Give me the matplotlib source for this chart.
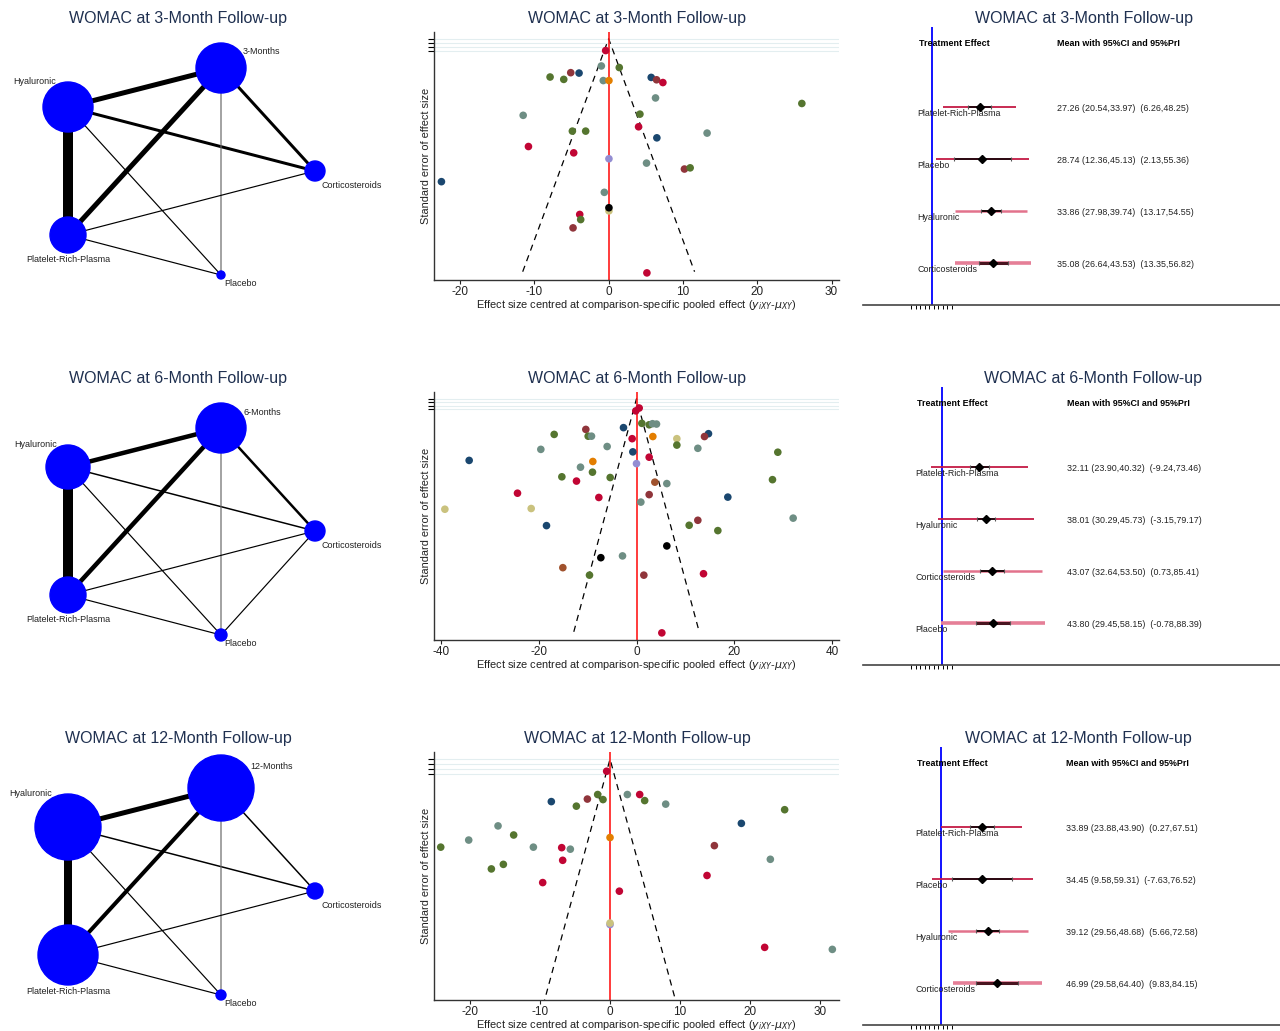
#!/usr/bin/env python3
"""
WOMAC network meta-analysis panels at 3, 6 and 12 months:
network geometry, comparison-adjusted funnel plot and forest of
mean effects with 95% CI and 95% prediction interval.
"""

import matplotlib.pyplot as plt
import numpy as np

plt.rcParams['font.family'] = ['Liberation Sans', 'DejaVu Sans']
plt.rcParams['axes.unicode_minus'] = False

W, H = 1280, 1031
TITLE_COLOR = '#1f3050'

TIMEPOINTS = ['3-Month', '6-Month', '12-Month']
TIME_NODES = ['3-Months', '6-Months', '12-Months']

# ---- network geometry -------------------------------------------------
NODE_NAMES = ['Time', 'Hyaluronic', 'Corticosteroids',
              'Platelet-Rich-Plasma', 'Placebo']
NODE_X = [221, 68, 315, 68, 221]
NODE_Y = [68, 107, 171, 235, 275]
NODE_SIZE = [
    [25, 25, 10, 18, 4],
    [25, 22, 10, 18, 6],
    [33, 33, 8, 30, 5],
]
EDGES = [(1, 0), (1, 3), (3, 0), (0, 2), (1, 2),
         (1, 4), (0, 4), (3, 2), (3, 4), (2, 4)]
EDGE_WIDTH = [
    [5, 10, 5, 3, 3, 1, 1, 1, 1, 0],
    [4.5, 10, 4.5, 2.5, 1.5, 1, 1, 1, 1, 1],
    [5, 8, 4, 1.5, 1.5, 1, 1, 1, 1, 0],
]

# ---- funnel plots -------------------------------------------------------
COL = {
    'navy': '#1a476f', 'maroon': '#90353b', 'green': '#55752f',
    'orange': '#e37e00', 'teal': '#6e8e84', 'cran': '#c10534',
    'lav': '#938dd2', 'khaki': '#cac27e', 'sienna': '#a0522d',
    'black': '#000000',
}

F1_EFFECT = [-0.40, -0.98, 1.43, -7.88, -6.04, -5.10, -3.98, -0.72, 0.04,
             5.73, 6.45, 7.30, 6.31, 26.0, -11.5, 4.21, 4.03, -4.88, -3.09,
             13.25, 6.49, -10.79, -4.70, 0.04, 5.10, 10.2, 10.97, -22.5,
             -0.58, 0.04, 0.04, -3.89, -3.76, -4.79, 5.15]
F1_SE = [0.30, 0.69, 0.73, 0.97, 1.03, 0.86, 0.87, 1.06, 1.06, 0.98, 1.04,
         1.11, 1.50, 1.64, 1.94, 1.91, 2.23, 2.34, 2.34, 2.39, 2.51, 2.73,
         2.89, 3.04, 3.15, 3.30, 3.27, 3.62, 3.89, 4.36, 4.28, 4.45, 4.58,
         4.79, 5.93]
F1_COLOR = ['cran', 'teal', 'green', 'green', 'green', 'maroon', 'navy',
            'teal', 'orange', 'navy', 'maroon', 'cran', 'teal', 'green',
            'teal', 'green', 'cran', 'green', 'green', 'teal', 'navy',
            'cran', 'cran', 'lav', 'teal', 'maroon', 'green', 'navy',
            'teal', 'khaki', 'black', 'cran', 'green', 'maroon', 'cran']

F2_EFFECT = [0.55, -0.14, 1.09, 2.59, 3.27, 4.09, -2.66, -10.36, -16.83,
             -9.88, -9.20, -0.89, 3.34, 8.25, 14.72, 13.90, 8.25, 12.54,
             -6.00, -0.75, -19.56, 28.89, -34.21, 2.59, -8.93, 0.0, -11.45,
             -9.0, -15.26, -5.38, -12.27, 3.75, 6.20, 27.80, -24.33, -7.70,
             2.59, 18.67, 0.89, -39.18, -21.53, -18.40, 10.77, 12.54, 16.63,
             32.03, 6.20, -7.29, -2.86, -15.06, -9.61, 1.50, 13.70, 5.18]
F2_SE = [0.26, 0.34, 0.69, 0.73, 0.70, 0.71, 0.81, 0.86, 1.00, 1.05, 1.05,
         1.12, 1.06, 1.12, 0.98, 1.06, 1.30, 1.39, 1.34, 1.49, 1.42, 1.50,
         1.73, 1.64, 1.76, 1.82, 1.92, 2.06, 2.19, 2.21, 2.31, 2.34, 2.38,
         2.27, 2.65, 2.77, 2.69, 2.76, 2.90, 3.10, 3.08, 3.56, 3.55, 3.41,
         3.70, 3.35, 4.13, 4.46, 4.41, 4.74, 4.95, 4.95, 4.91, 6.57]
F2_COLOR = ['cran', 'cran', 'green', 'green', 'teal', 'teal', 'navy',
            'maroon', 'green', 'green', 'teal', 'cran', 'orange', 'khaki',
            'navy', 'maroon', 'green', 'teal', 'teal', 'navy', 'teal',
            'green', 'navy', 'cran', 'orange', 'lav', 'teal', 'green',
            'green', 'green', 'cran', 'sienna', 'teal', 'green', 'cran',
            'cran', 'maroon', 'navy', 'teal', 'khaki', 'khaki', 'navy',
            'green', 'maroon', 'green', 'teal', 'black', 'black', 'teal',
            'sienna', 'green', 'maroon', 'cran', 'cran']

F3_EFFECT = [-0.48, -1.76, -1.0, -3.23, -8.37, -4.80, 2.47, 4.23, 4.94,
             7.94, 24.9, 18.73, -15.97, -20.15, -13.74, -24.14, -10.93,
             -6.89, -5.66, 0.0, 14.88, -16.92, -15.21, -6.75, 22.86, -9.60,
             1.33, 13.83, 0.0, 0.0, 22.05, 31.70, 0.0]
F3_SE = [0.24, 0.70, 0.80, 0.79, 0.84, 0.93, 0.70, 0.70, 0.82, 0.89, 1.00,
         1.27, 1.32, 1.60, 1.50, 1.74, 1.74, 1.75, 1.78, 1.55, 1.71, 2.17,
         2.08, 2.00, 1.98, 2.44, 2.61, 2.30, 3.27, 3.24, 3.72, 3.76, 4.89]
F3_COLOR = ['cran', 'green', 'green', 'maroon', 'navy', 'green', 'teal',
            'cran', 'green', 'teal', 'green', 'navy', 'teal', 'teal',
            'green', 'green', 'teal', 'cran', 'teal', 'orange', 'maroon',
            'green', 'green', 'cran', 'teal', 'cran', 'cran', 'cran', 'lav',
            'khaki', 'cran', 'teal', 'black']

FUNNEL_EFFECT = [F1_EFFECT, F2_EFFECT, F3_EFFECT]
FUNNEL_SE = [F1_SE, F2_SE, F3_SE]
FUNNEL_COLOR = [F1_COLOR, F2_COLOR, F3_COLOR]
FUNNEL_SEMAX = [5.9, 6.54, 4.87]
FUNNEL_XLIM = [(-23.5, 31.0), (-41.4, 41.4), (-25.1, 32.65)]
FUNNEL_YLIM = [(6.11, -0.17), (6.77, -0.19), (4.76, -0.14)]
FUNNEL_XTICKS = [[-20, -10, 0, 10, 20, 30], [-40, -20, 0, 20, 40],
                 [-20, -10, 0, 10, 20, 30]]

# ---- forest plots ---------------------------------------------------------
FOREST_TREAT = [
    ['Platelet-Rich-Plasma', 'Placebo', 'Hyaluronic', 'Corticosteroids'],
    ['Platelet-Rich-Plasma', 'Hyaluronic', 'Corticosteroids', 'Placebo'],
    ['Platelet-Rich-Plasma', 'Placebo', 'Hyaluronic', 'Corticosteroids'],
]
FOREST_MEAN = [[27.26, 28.74, 33.86, 35.08],
               [32.11, 38.01, 43.07, 43.80],
               [33.89, 34.45, 39.12, 46.99]]
FOREST_CI_LO = [[20.54, 12.36, 27.98, 26.64],
                [23.90, 30.29, 32.64, 29.45],
                [23.88, 9.58, 29.56, 29.58]]
FOREST_CI_HI = [[33.97, 45.13, 39.74, 43.53],
                [40.32, 45.73, 53.50, 58.15],
                [43.90, 59.31, 48.68, 64.40]]
FOREST_PI_LO = [[6.26, 2.13, 13.17, 13.35],
                [-9.24, -3.15, 0.73, -0.78],
                [0.27, -7.63, 5.66, 9.83]]
FOREST_PI_HI = [[48.25, 55.36, 54.55, 56.82],
                [73.46, 79.17, 85.41, 88.39],
                [67.51, 76.52, 72.58, 84.15]]

# pixel layout of each forest panel: zero line, px per unit, text columns
FOREST_ZERO_PX = [932, 942, 941]
FOREST_SCALE = [1.747, 1.167, 1.2]
FOREST_LABEL_PX = [917, 915, 915]
FOREST_NUM_PX = [1057, 1067, 1066]
FOREST_TITLE_PX = [1084, 1093, 1078]

PI_COLOR = ['#c41a44', '#c41a44', '#e2728c', '#e57f97']
PI_WIDTH = [1.3, 1.3, 1.8, 2.6]
CI_COLOR = ['black', 'black', '#1a0508', '#4a1520']
CI_WIDTH = [1.1, 1.1, 1.4, 2.2]


def px_axes(fig, left, top, right, bottom):
    return fig.add_axes([left / W, 1 - bottom / H,
                         (right - left) / W, (bottom - top) / H])


def fig_text(fig, x, y, s, **kw):
    fig.text(x / W, 1 - y / H, s, **kw)


def draw_network(fig, row, y0):
    ax = px_axes(fig, 0, y0, 400, y0 + 340)
    ax.set_xlim(0, 400)
    ax.set_ylim(340, 0)
    ax.axis('off')
    for (a, b), w in zip(EDGES, EDGE_WIDTH[row]):
        if w <= 0:
            continue
        color = '#666666' if {a, b} == {0, 4} else 'black'
        ax.plot([NODE_X[a], NODE_X[b]], [NODE_Y[a], NODE_Y[b]],
                color=color, lw=max(w * 0.72, 0.85), snap=False,
                solid_capstyle='butt', zorder=1)
    r = NODE_SIZE[row]
    for i in range(len(NODE_NAMES)):
        ax.add_patch(plt.Circle((NODE_X[i], NODE_Y[i]), r[i],
                                color='#0000ff', zorder=3))
    fs = 6.5
    x, y = NODE_X, NODE_Y
    ax.text(x[0] + 0.88 * r[0], y[0] - 0.64 * r[0], TIME_NODES[row],
            fontsize=fs, ha='left', va='center', color='#222222')
    ax.text(x[1] - 0.5 * r[1], y[1] - r[1] - 1, 'Hyaluronic',
            fontsize=fs, ha='right', va='center', color='#222222')
    ax.text(x[2] + 6, y[2] + 15, 'Corticosteroids',
            fontsize=fs, ha='left', va='center', color='#222222')
    ax.text(x[3], y[3] + r[3] + 7, 'Platelet-Rich-Plasma',
            fontsize=fs, ha='center', va='center', color='#222222')
    ax.text(x[4] + 3, y[4] + 9, 'Placebo',
            fontsize=fs, ha='left', va='center', color='#222222')
    fig_text(fig, 178, y0 + 18, f'WOMAC at {TIMEPOINTS[row]} Follow-up',
             fontsize=11.5, color=TITLE_COLOR, ha='center', va='center')


def draw_funnel(fig, row, y0):
    ax = px_axes(fig, 434, y0 + 32, 839, y0 + 280)
    eff = np.array(FUNNEL_EFFECT[row])
    se = np.array(FUNNEL_SE[row])
    cols = [COL[c] for c in FUNNEL_COLOR[row]]
    semax = FUNNEL_SEMAX[row]
    ax.set_xlim(*FUNNEL_XLIM[row])
    ax.set_ylim(*FUNNEL_YLIM[row])
    ax.set_yticks([0, 0.1, 0.2, 0.3])
    ax.set_yticklabels([])
    ax.grid(axis='y', color='#e3eef0', lw=0.8)
    ax.set_axisbelow(True)
    ax.plot([-1.96 * semax, 0, 1.96 * semax], [semax, 0, semax],
            color='black', ls=(0, (5, 4)), lw=0.9, zorder=2)
    ax.axvline(0, color='#ff1a1a', lw=1.2, zorder=2)
    ax.scatter(eff, se, s=30, c=cols, zorder=3, linewidths=0)
    ax.set_xticks(FUNNEL_XTICKS[row])
    ax.tick_params(axis='x', labelsize=8.5, length=3, pad=1,
                   colors='#222222')
    ax.tick_params(axis='y', length=4, width=0.8)
    for s in ('top', 'right'):
        ax.spines[s].set_visible(False)
    for s in ('left', 'bottom'):
        ax.spines[s].set_color('#333333')
        ax.spines[s].set_linewidth(1.0)
    ax.set_xlabel('Effect size centred at comparison-specific pooled '
                  r'effect ($y_{iXY}$-$\mu_{XY}$)', fontsize=7.9,
                  labelpad=0, color='#222222')
    ax.set_ylabel('Standard error of effect size', fontsize=7.9,
                  labelpad=-5, color='#222222')
    fig_text(fig, 637, y0 + 18, f'WOMAC at {TIMEPOINTS[row]} Follow-up',
             fontsize=11.5, color=TITLE_COLOR, ha='center', va='center')


def draw_forest(fig, row, y0):
    left, right = 863, 1280
    ax = px_axes(fig, left, y0 + 27, right, y0 + 305)
    zero, scale = FOREST_ZERO_PX[row], FOREST_SCALE[row]
    ax.set_xlim((left - zero) / scale, (right - zero) / scale)
    # rows are 52 px apart, first row 107 px below the panel top
    ax.set_ylim((305 - 55) / 52, (27 - 55) / 52)
    ax.axvline(0, color='#0000ff', lw=1.3, zorder=1)
    frac = lambda px: (px - left) / (right - left)
    for i, name in enumerate(FOREST_TREAT[row]):
        yy = i + 1
        ax.plot([FOREST_PI_LO[row][i], FOREST_PI_HI[row][i]], [yy, yy],
                color=PI_COLOR[i], lw=PI_WIDTH[i], solid_capstyle='butt',
                zorder=2)
        ax.plot([FOREST_CI_LO[row][i], FOREST_CI_HI[row][i]], [yy, yy],
                color=CI_COLOR[i], lw=CI_WIDTH[i], solid_capstyle='butt',
                zorder=3)
        ax.plot([FOREST_CI_LO[row][i], FOREST_CI_HI[row][i]], [yy, yy],
                ls='none', marker='|', ms=3, mew=0.8, color='#555555',
                zorder=3)
        ax.plot(FOREST_MEAN[row][i], yy, marker='D', ms=3.6,
                color='black', zorder=4)
        ax.text(frac(FOREST_LABEL_PX[row]), yy + 0.13, name,
                transform=ax.get_yaxis_transform(), fontsize=6.4,
                ha='left', va='center', color='#222222')
        txt = (f'{FOREST_MEAN[row][i]:.2f} '
               f'({FOREST_CI_LO[row][i]:.2f},{FOREST_CI_HI[row][i]:.2f})  '
               f'({FOREST_PI_LO[row][i]:.2f},{FOREST_PI_HI[row][i]:.2f})')
        ax.text(frac(FOREST_NUM_PX[row]), yy + 0.02, txt,
                transform=ax.get_yaxis_transform(), fontsize=6.4,
                ha='left', va='center', color='#222222')
    hy = (43 - 55) / 52
    ax.text(frac(FOREST_LABEL_PX[row] + 2), hy, 'Treatment Effect',
            transform=ax.get_yaxis_transform(), fontsize=6.4,
            fontweight='bold', ha='left', va='center')
    ax.text(frac(FOREST_NUM_PX[row]), hy, 'Mean with 95%CI and 95%PrI',
            transform=ax.get_yaxis_transform(), fontsize=6.4,
            fontweight='bold', ha='left', va='center')
    ticks = np.linspace((911 - zero) / scale, (952 - zero) / scale, 10)
    ax.set_xticks(ticks)
    ax.set_xticklabels([])
    ax.set_yticks([])
    ax.tick_params(axis='x', length=3, width=0.7)
    for s in ('top', 'right', 'left'):
        ax.spines[s].set_visible(False)
    ax.spines['bottom'].set_color('#444444')
    ax.spines['bottom'].set_linewidth(1.2)
    fig_text(fig, FOREST_TITLE_PX[row], y0 + 18,
             f'WOMAC at {TIMEPOINTS[row]} Follow-up',
             fontsize=11.5, color=TITLE_COLOR, ha='center', va='center')


def main():
    fig = plt.figure(figsize=(W / 100, H / 100), dpi=100)
    for row, y0 in enumerate([0, 360, 720]):
        draw_network(fig, row, y0)
        draw_funnel(fig, row, y0)
        draw_forest(fig, row, y0)
    fig.savefig('out.png', dpi=100, facecolor='white')
    plt.close(fig)


if __name__ == '__main__':
    main()
